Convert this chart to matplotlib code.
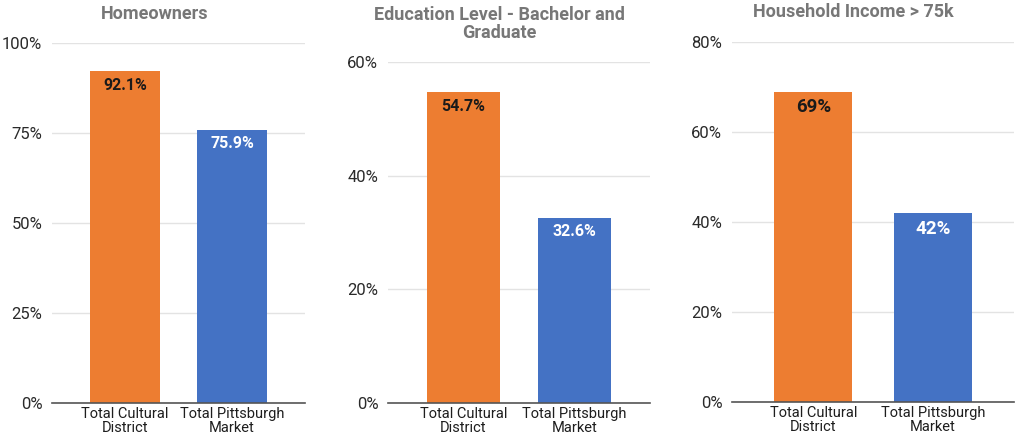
import matplotlib
matplotlib.use("Agg")
import matplotlib.pyplot as plt
from matplotlib.ticker import FuncFormatter

plt.rcParams['font.family'] = ['Roboto', 'DejaVu Sans']

categories = ["Total Cultural\nDistrict", "Total Pittsburgh\nMarket"]
titles = ["Homeowners", "Education Level - Bachelor and\nGraduate", "Household Income > 75k"]
homeowners = [92.1, 75.9]
education = [54.7, 32.6]
income = [69, 42]
value_labels = [["92.1%", "75.9%"], ["54.7%", "32.6%"], ["69%", "42%"]]
yticks = [[0, 25, 50, 75, 100], [0, 20, 40, 60], [0, 20, 40, 60, 80]]
series = [homeowners, education, income]

colors = ["#ED7D31", "#4472C4"]
label_colors = ["#1a1a1a", "#ffffff"]

W, H = 1019, 443
fig = plt.figure(figsize=(W / 100, H / 100), dpi=100)

# axes boxes in pixels: left, right, top, bottom
boxes = [(52, 305, 43, 403), (388, 650, 62, 403), (732, 1014, 42, 402)]
title_pos = [(155, 14), (499, 24), (853, 12)]
value_sizes = [11.5, 11.5, 13.5]
value_offsets = [-14, -14, -16]

for i in range(3):
    l, r, t, b = boxes[i]
    ax = fig.add_axes([l / W, 1 - b / H, (r - l) / W, (b - t) / H])
    vals = series[i]
    x = list(range(len(categories)))
    bars = ax.bar(x, vals, width=0.65, color=colors, zorder=3)
    ax.set_xlim(-0.68, 1.68)
    ax.set_ylim(0, yticks[i][-1])
    ax.set_yticks(yticks[i])
    ax.yaxis.set_major_formatter(FuncFormatter(lambda v, p: f"{int(v)}%"))
    ax.set_xticks(x)
    ax.set_xticklabels(categories, fontsize=10.5, color="#1e1e1e", linespacing=0.95)
    ax.tick_params(axis='both', length=0)
    ax.tick_params(axis='y', labelsize=12, labelcolor="#2a2a2a", pad=7)
    ax.tick_params(axis='x', pad=3)
    ax.grid(axis='y', color="#e3e3e3", linewidth=1, zorder=0)
    for s in ["top", "right", "left"]:
        ax.spines[s].set_visible(False)
    ax.spines["bottom"].set_color("#555555")
    ax.spines["bottom"].set_linewidth(1.2)
    ax.spines["bottom"].set_zorder(4)
    for j, bar in enumerate(bars):
        ax.annotate(value_labels[i][j], (bar.get_x() + bar.get_width() / 2, bar.get_height()),
                    xytext=(0, value_offsets[i]), textcoords="offset pixels", ha="center", va="center",
                    fontsize=value_sizes[i], fontweight="bold", color=label_colors[j], zorder=5)
    tx, ty = title_pos[i]
    fig.text(tx / W, 1 - ty / H, titles[i], ha="center", va="center", fontsize=13,
             fontweight="bold", color="#777777", linespacing=1.05)

fig.savefig("out.png", dpi=100, facecolor="white")
